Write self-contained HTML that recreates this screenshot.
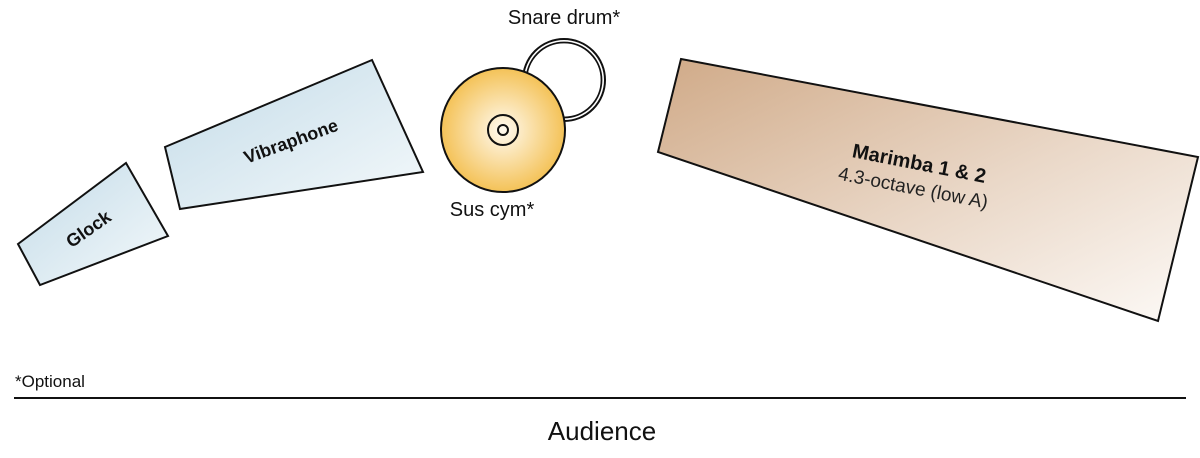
<!DOCTYPE html>
<html><head><style>body{margin:0;background:#fff}svg{display:block}</style></head><body>
<svg width="1200" height="458" viewBox="0 0 1200 458" xmlns="http://www.w3.org/2000/svg" font-family="Liberation Sans, sans-serif">
<defs>
<linearGradient id="b" x1="0" y1="0" x2="1" y2="1"><stop offset="0" stop-color="#c3dbe8"/><stop offset="1" stop-color="#f4f9fb"/></linearGradient>
<linearGradient id="m" x1="0" y1="0" x2="1" y2="1"><stop offset="0" stop-color="#d0aa88"/><stop offset="0.55" stop-color="#ead8c8"/><stop offset="1" stop-color="#fdfaf7"/></linearGradient>
<radialGradient id="y"><stop offset="0" stop-color="#fffaf0"/><stop offset="1" stop-color="#f4c257"/></radialGradient>
</defs>
<g stroke="#111" stroke-width="2">
<polygon points="18,244 126,163 168,236 40,285" fill="url(#b)"/>
<polygon points="165,147 372,60 423,172 180,209" fill="url(#b)"/>
<polygon points="681,59 1198,157 1158,321 658,152" fill="url(#m)"/>
<circle cx="564" cy="80" r="41" fill="#fff"/>
<circle cx="564" cy="80" r="37.5" fill="#fff" stroke-width="1.8"/>
<circle cx="503" cy="130" r="62" fill="url(#y)"/>
<circle cx="503" cy="130" r="15" fill="none"/>
<circle cx="503" cy="130" r="5" fill="none"/>
<line x1="14" y1="398" x2="1186" y2="398"/>
</g>
<g fill="#111" font-weight="bold">
<text x="92" y="234" font-size="18" text-anchor="middle" transform="rotate(-35 92 234)">Glock</text>
<text x="293" y="147" font-size="18" text-anchor="middle" transform="rotate(-20 293 147)">Vibraphone</text>
<text x="918" y="170" font-size="20" text-anchor="middle" transform="rotate(11 918 170)">Marimba 1 &amp; 2</text>
</g>
<text x="912" y="194" font-size="19" fill="#222" text-anchor="middle" transform="rotate(11 912 194)">4.3-octave (low A)</text>
<g fill="#111" font-size="20">
<text x="564" y="24" text-anchor="middle">Snare drum*</text>
<text x="492" y="216" text-anchor="middle">Sus cym*</text>
<text x="15" y="387" font-size="17">*Optional</text>
<text x="602" y="440" font-size="26" text-anchor="middle">Audience</text>
</g>
</svg>
</body></html>
